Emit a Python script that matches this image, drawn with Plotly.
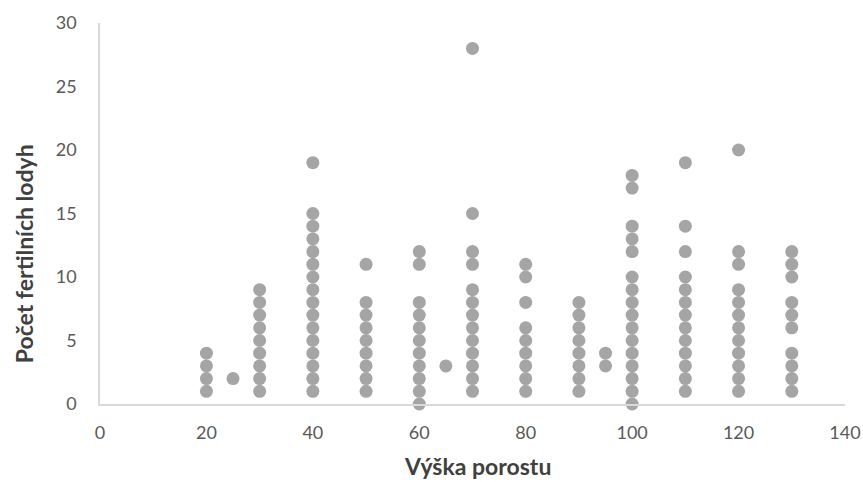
import plotly.graph_objects as go

# heights (x) and counts of fertile stems (y)
col_20 = [1, 2, 3, 4]
col_25 = [2]
col_30 = [1, 2, 3, 4, 5, 6, 7, 8, 9]
col_40 = [1, 2, 3, 4, 5, 6, 7, 8, 9, 10, 11, 12, 13, 14, 15, 19]
col_50 = [1, 2, 3, 4, 5, 6, 7, 8, 11]
col_60 = [0, 1, 2, 3, 4, 5, 6, 7, 8, 11, 12]
col_65 = [3]
col_70 = [1, 2, 3, 4, 5, 6, 7, 8, 9, 11, 12, 15, 28]
col_80 = [1, 2, 3, 4, 5, 6, 8, 10, 11]
col_90 = [1, 2, 3, 4, 5, 6, 7, 8]
col_95 = [3, 4]
col_100 = [0, 1, 2, 3, 4, 5, 6, 7, 8, 9, 10, 12, 13, 14, 17, 18]
col_110 = [1, 2, 3, 4, 5, 6, 7, 8, 9, 10, 12, 14, 19]
col_120 = [1, 2, 3, 4, 5, 6, 7, 8, 9, 11, 12, 20]
col_130 = [1, 2, 3, 4, 6, 7, 8, 10, 11, 12]

heights = [20, 25, 30, 40, 50, 60, 65, 70, 80, 90, 95, 100, 110, 120, 130]
columns = [col_20, col_25, col_30, col_40, col_50, col_60, col_65, col_70,
           col_80, col_90, col_95, col_100, col_110, col_120, col_130]

x_ticks = [0, 20, 40, 60, 80, 100, 120, 140]
y_ticks = [0, 5, 10, 15, 20, 25, 30]

x_title = "Výška porostu"
y_title = "Počet fertilních lodyh"

xs, ys = [], []
for h, col in zip(heights, columns):
    for v in col:
        xs.append(h)
        ys.append(v)

FONT = "Lato, 'Liberation Sans', sans-serif"

fig = go.Figure(go.Scatter(
    x=xs, y=ys, mode="markers",
    marker=dict(color="#A5A5A5", size=13, line=dict(width=0)),
    cliponaxis=False,
    hoverinfo="x+y",
))

fig.update_layout(
    width=863, height=482,
    margin=dict(l=100, r=18, t=23, b=78, autoexpand=False),
    paper_bgcolor="white", plot_bgcolor="white",
    font=dict(family=FONT, size=18, color="#595959"),
    showlegend=False,
    xaxis=dict(
        range=[0, 140], tickvals=x_ticks, showgrid=False, zeroline=False,
        showline=True, linecolor="#D9D9D9", linewidth=1.5,
        ticks="", ticklabelstandoff=12, automargin=False,
    ),
    yaxis=dict(
        range=[0, 30], tickvals=y_ticks, showgrid=False, zeroline=False,
        showline=True, linecolor="#D9D9D9", linewidth=1.5,
        ticks="", ticklabelstandoff=18, automargin=False,
    ),
    annotations=[
        dict(text="<b>" + x_title + "</b>", xref="paper", yref="paper",
             x=0.507, y=0, yshift=-62, xanchor="center", yanchor="middle",
             showarrow=False, font=dict(size=23, color="#404040")),
        dict(text="<b>" + y_title + "</b>", xref="paper", yref="paper",
             x=0, y=0.393, xshift=-76, xanchor="center", yanchor="middle",
             textangle=-90, showarrow=False,
             font=dict(size=23, color="#404040")),
    ],
)

fig.write_html("out.html")
